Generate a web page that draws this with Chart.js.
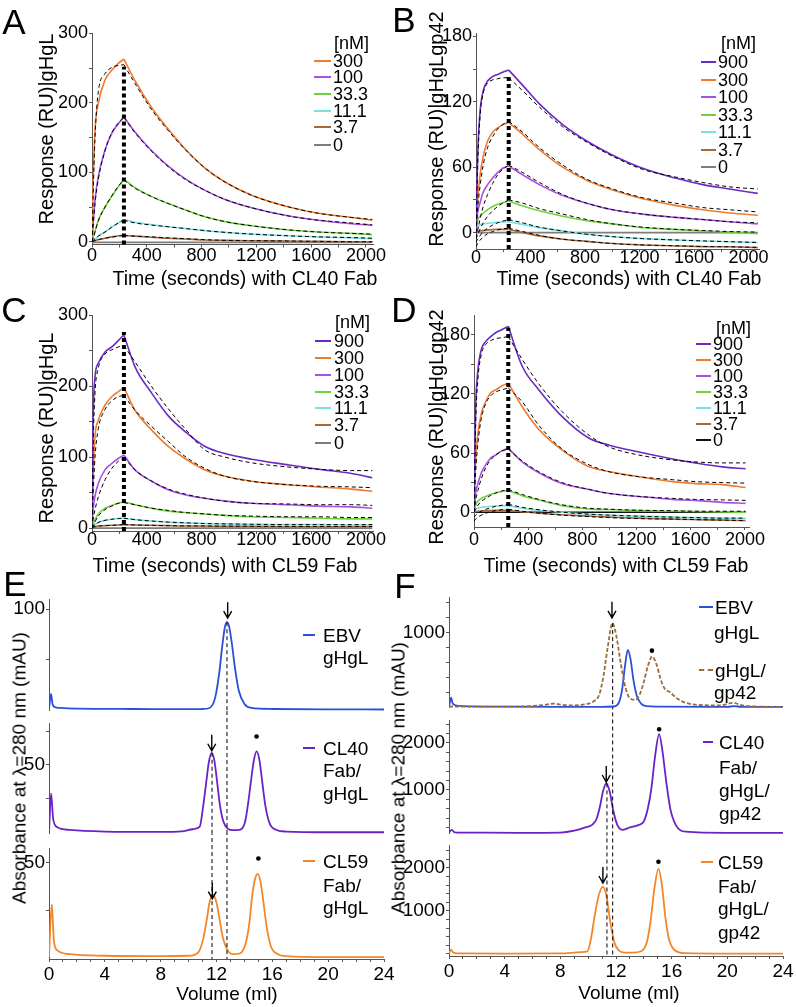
<!DOCTYPE html>
<html>
<head>
<meta charset="utf-8">
<title>CL40 / CL59 Fab binding</title>
<script src="https://cdn.jsdelivr.net/npm/chart.js@4.4.1/dist/chart.umd.min.js"></script>
<style>
  html, body { margin: 0; padding: 0; background: #fff; overflow: hidden; }
  #fig { position: relative; width: 796px; height: 1007px; font-family: 'Liberation Sans', Arial, sans-serif; color: #000; }
  #fig canvas { position: absolute; }
  .t { position: absolute; white-space: nowrap; line-height: 1; }
  .ln { position: absolute; height: 0; }
</style>
</head>
<body>
<div id="fig"></div>
<script>
// ---- SPR sensorgrams: time (s) ----
const timeA = [0, 8, 22, 46, 95, 144, 192, 233, 314, 436, 557, 679, 825, 971, 1165, 1438, 1652, 1895, 2046];
const timeB = [0, 12, 29, 53, 85, 122, 159, 196, 240, 343, 465, 636, 812, 1003, 1223, 1462, 1663, 1859, 2067];
const timeC = [0, 8, 22, 46, 95, 144, 192, 233, 314, 436, 557, 679, 825, 971, 1165, 1438, 1652, 1895, 2046];
const timeD = [0, 12, 29, 54, 86, 123, 160, 204, 253, 356, 479, 651, 850, 1000, 1217, 1466, 1635, 1832, 2005];

const concA = ['300', '100', '33.3', '11.1', '3.7', '0'];
const concB = ['900', '300', '100', '33.3', '11.1', '3.7', '0'];
const concC = ['900', '300', '100', '33.3', '11.1', '3.7', '0'];
const concD = ['900', '300', '100', '33.3', '11.1', '3.7', '0'];

// A: gHgL, CL40 Fab (response RU; measured + fitted)
const a300 = [0, 80, 161, 199, 233, 247, 257, 263, 232, 193, 162, 134, 106, 86, 67, 50, 41, 35, 31];
const a300Fit = [0, 65, 150, 216, 242, 251, 254, 255, 228, 190, 160, 133, 106, 86, 67, 50, 41, 35, 32];
const a100 = [0, 25, 60, 94, 132, 156, 170, 180, 158, 131, 109, 91, 74, 61, 49, 37, 31, 26, 24];
const a100Fit = [0, 22, 55, 90, 131, 157, 171, 179, 157, 130, 108, 90, 74, 61, 49, 37, 31, 27, 24];
const a33 = [0, 6, 15, 31, 50, 65, 79, 90, 78, 65, 55, 46, 36, 29, 23, 17, 14, 12, 10];
const a33Fit = [0, 5, 14, 30, 50, 66, 80, 89, 77, 65, 55, 46, 36, 29, 23, 17, 14, 12, 11];
const a11 = [0, 1.5, 4, 8, 14, 21, 27, 32, 28, 24.5, 21.5, 19, 16, 13.5, 11, 8.5, 7, 5.5, 4.5];
const a11Fit = [0, 1.5, 4, 8, 14, 21, 27, 31, 27, 24, 21.5, 19, 16, 13.5, 11, 8.5, 7, 6, 5];
const a37 = [0, 0.5, 1.5, 3, 5, 7, 8.5, 9, 8, 6.5, 5, 4, 2.5, 2, 1.5, 1, 0.5, 0, -0.5];
const a37Fit = [0, 0.5, 1.5, 3, 5, 6.5, 8, 9, 8, 7, 5.5, 4.5, 3, 2, 1.5, 1, 0.5, 0, 0];
const a0 = [-1, -1, -1, -1, -1, -1, -1, -1, -1, -1, -1, -1, -1, -1, -1, -1, -1, -1, -1];

// B: gHgLgp42, CL40 Fab
const b900 = [0, 70, 110, 130, 139, 143, 145, 147, 149, 135, 118, 99, 84, 71, 59, 50, 44, 40, 36];
const b900Fit = [0, 60, 105, 128, 137, 140, 141, 142, 142, 130, 115, 97, 83, 70, 58, 51, 46, 42, 40];
const b300 = [0, 31, 52, 70, 84, 92, 96, 99, 101, 90, 76, 60, 48, 39, 31, 25, 21, 18, 16];
const b300Fit = [0, 22, 42, 62, 78, 88, 95, 99, 102, 92, 78, 62, 49, 40, 32, 27, 23, 21, 19];
const b100 = [0, 18, 27, 37, 44, 50, 55, 59, 61, 53, 44, 34, 27, 21, 17, 14, 12, 10, 8];
const b100Fit = [-5, 2, 12, 24, 35, 45, 53, 58, 62, 55, 46, 35, 27, 21, 17, 14, 12, 10, 9];
const b33 = [0, 11, 15, 18, 21, 24, 26, 27.5, 29, 24.5, 20, 15, 11, 8, 4.5, 3, 1.5, 0.6, -1];
const b33Fit = [-6, -2, 3, 9, 15, 20, 24, 27, 30, 27, 22, 17, 12, 8, 5, 3, 2, 1, 0.5];
const b11 = [0, 5, 7, 8, 8.5, 9, 9.5, 9.8, 10, 7.6, 4.6, 1.5, -1.5, -3.7, -5.5, -6.7, -7.6, -8.3, -9];
const b11Fit = [-9, -6, -3, 1, 4, 7, 9, 10.5, 12, 9, 5, 1.5, -1.5, -3.7, -5.5, -6.7, -7.6, -8.3, -9];
const b37 = [0, 1, 1.5, 2, 2.5, 2.8, 3, 3, 3, 0, -3, -6, -8, -10, -11.3, -12.2, -12.8, -13, -13.7];
const b37Fit = [-13, -10, -7, -4, -1, 1, 2.5, 3.5, 4, 1, -2.5, -6, -8, -10, -11.3, -12, -12.7, -13, -13.5];
const b0 = [0, 0, 0, 0, 0, 0, 0, 0, 0, 0, 0, 0, 0, 0, 0, 0, 0, 0, 0];

// C: gHgL, CL59 Fab
const c900 = [0, 150, 213, 232, 248, 255, 264, 272, 227, 190, 158, 136, 115, 105, 97, 89, 83, 77, 71];
const c900Fit = [0, 110, 190, 225, 245, 251, 255, 257, 234, 199, 168, 140, 110, 100, 92, 86, 83, 81, 81];
const c300 = [0, 70, 129, 152, 173, 185, 192, 198, 166, 138, 115, 98, 82, 73, 66, 61, 58, 55, 52];
const c300Fit = [0, 45, 100, 140, 167, 179, 185, 187, 166, 143, 122, 101, 84, 73, 66, 61, 59, 58, 57];
const c100 = [0, 25, 45, 63, 82, 91, 98, 103, 82, 66, 54, 47, 42, 38, 35, 33, 31, 30, 28];
const c100Fit = [0, 12, 26, 44, 68, 84, 94, 100, 82, 66, 55, 48, 42, 38, 35, 34, 33, 33, 32];
const c33 = [0, 5, 12, 20, 28, 32, 35, 37, 33, 28, 24, 22, 20, 18, 16, 15, 14, 13, 13];
const c33Fit = [0, 3, 9, 17, 26, 31, 35, 36, 33, 28, 25, 22, 20, 18, 17, 16, 16, 15, 15];
const c11 = [0, 2, 5, 8, 11, 12.5, 13.5, 14, 12, 10, 8.5, 7.5, 6.5, 6, 5.5, 5, 5, 4.5, 4.5];
const c11Fit = [0, 2, 4.5, 8, 11, 12.5, 13.5, 14, 12, 10, 8.5, 7.5, 6.5, 6, 5.5, 5, 5, 5, 5];
const c37 = [0, 1, 2, 3, 3.5, 4, 4.5, 5, 4.5, 4, 3.5, 3, 3, 2.5, 2.5, 2, 2, 2, 2];
const c37Fit = [0, 1, 2, 3, 3.5, 4, 4.5, 5, 4.5, 4, 3.5, 3.2, 3, 2.8, 2.6, 2.5, 2.5, 2.5, 2.5];
const c0 = [0, 0, 0, 0, 0, 0, 0, 0, 0, 0, 0, 0, 0, 0, 0, 0, 0, 0, 0];

// D: gHgLgp42, CL59 Fab
const d900 = [0, 104, 144, 165, 173, 178, 182, 185, 188.5, 148, 124, 97, 75, 68, 61, 54, 50, 46, 44];
const d900Fit = [0, 90, 135, 160, 170, 174, 176, 177, 178, 155, 130, 102, 78, 66, 58, 53, 51, 50, 50];
const d300 = [0, 53, 80, 100, 112, 121, 124, 128, 131, 107, 84, 63, 46, 41, 36, 31, 29, 28, 25];
const d300Fit = [0, 40, 70, 95, 110, 118, 122, 124, 126, 112, 88, 64, 48, 41, 36, 33, 31, 30, 29.5];
const d100 = [0, 19, 29, 40, 48, 55, 58, 62, 65, 51, 40, 29, 23, 19, 16, 13, 12, 10, 9];
const d100Fit = [0, 12, 22, 34, 45, 53, 58, 62, 64, 52, 41, 30, 23, 19, 16, 14, 13, 12.5, 12];
const d33 = [0, 7, 11, 14, 16, 18, 19.5, 21, 22, 16.7, 12.3, 6.7, 3.3, 2.7, 1.7, 1, 0.7, 0.3, 0];
const d33Fit = [0, 3, 7, 11, 14, 17, 19.5, 21.5, 23, 18, 13, 7.5, 4, 3, 2, 1.5, 1, 1, 1];
const d11 = [0, 3, 4, 5, 5.5, 6, 6.3, 6.5, 6.7, 4, 2, 0, -2, -3, -4, -5, -5.5, -6, -6.3];
const d11Fit = [-5, -3, -1, 1, 3, 4.5, 6, 7, 8, 5, 2.5, 0, -2, -3, -4, -5, -5.5, -6, -6];
const d37 = [0, 0.5, 1, 1.3, 1.6, 1.8, 2, 2, 2, 0.5, -1, -2.5, -4, -5, -6, -7, -7.5, -8, -8.5];
const d37Fit = [-9, -7, -5, -3, -1, 0.5, 1.5, 2.5, 3, 1, -1, -3, -4.5, -5.5, -6.5, -7, -7.5, -8, -8.5];
const d0 = [0, 0, 0, 0, 0, 0, 0, 0, 0, 0, 0, 0, 0, 0, 0, 0, 0, 0, 0];

const sprXTicks = [0, 200, 400, 600, 800, 1000, 1200, 1400, 1600, 1800, 2000];
const sprXLabels = [0, 400, 800, 1200, 1600, 2000];
const yTicksAC = [0, 50, 100, 150, 200, 250, 300];
const yLabelsAC = [0, 100, 200, 300];
const yTicksBD = [0, 30, 60, 90, 120, 150, 180];
const yLabelsBD = [0, 60, 120, 180];

// ---- SEC chromatograms: volume (ml) / A280 (mAU) ----
const volE1 = [0, 0.15, 0.25, 0.4, 0.8, 2, 6, 10, 11, 11.5, 11.9, 12.2, 12.4, 12.6, 12.75, 12.9, 13.1, 13.3, 13.6, 14, 14.5, 16, 20, 24];
const absE1 = [1, 16, 6, 3, 2, 1.3, 1, 0.8, 1, 2, 12, 37, 62, 82, 87, 83, 66, 44, 19, 6, 2, 1, 0.6, 0.5];
const volE2 = [0, 0.15, 0.3, 0.6, 1.5, 4, 8, 9.5, 10.3, 10.8, 11.05, 11.25, 11.45, 11.65, 11.85, 12.05, 12.25, 12.5, 12.8, 13.2, 13.7, 14.05, 14.27, 14.47, 14.67, 14.87, 15.07, 15.27, 15.5, 15.8, 16.3, 17, 20, 24];
const absE2 = [0.3, 29, 10, 4, 2, 0.8, 0.5, 1, 2.5, 4.5, 20, 36, 52, 59, 53, 37, 20, 8, 3, 1.8, 2.2, 8, 22, 38, 53, 60, 54, 38, 20, 7, 2, 0.8, 0.3, 0.3];
const volE3 = [0, 0.2, 0.35, 0.6, 1.5, 4, 8, 10, 10.7, 11.05, 11.3, 11.5, 11.75, 12.0, 12.2, 12.45, 12.8, 13.2, 13.7, 14.1, 14.35, 14.55, 14.75, 14.95, 15.15, 15.35, 15.6, 15.9, 16.4, 17, 20, 24];
const absE3 = [0.5, 28, 9, 4, 2, 1.2, 1, 1.2, 3, 10, 20, 29, 33, 29, 21, 11, 4, 2, 2.5, 8, 18, 32, 41, 44, 40, 30, 16, 6, 2, 1, 0.5, 0.5];

const volF1 = [0, 0.15, 0.25, 0.4, 1, 4, 8, 11, 11.8, 12.2, 12.45, 12.65, 12.85, 13.05, 13.25, 13.5, 13.8, 14.2, 15, 20, 20.5, 21, 24];
const absF1 = [5, 130, 60, 30, 15, 8, 5, 5, 10, 60, 250, 560, 770, 640, 370, 150, 50, 15, 8, 5, 15, 5, 5];
const volF1b = [0, 0.2, 1, 5, 7, 7.5, 8, 9, 9.8, 10.4, 10.8, 11.1, 11.4, 11.75, 12.05, 12.35, 12.7, 13.0, 13.4, 13.7, 14.0, 14.3, 14.6, 14.9, 15.2, 15.5, 15.9, 16.3, 17, 18, 19.5, 20.4, 21, 22, 24];
const absF1b = [5, 10, 8, 10, 35, 50, 35, 25, 40, 80, 170, 420, 800, 1130, 930, 580, 250, 120, 100, 170, 340, 560, 680, 580, 380, 250, 200, 130, 60, 30, 25, 60, 30, 10, 5];
const volF2 = [0, 0.2, 0.4, 1, 5, 8, 9, 9.8, 10.3, 10.6, 10.85, 11.05, 11.3, 11.55, 11.8, 12.1, 12.5, 13, 13.6, 14.0, 14.3, 14.55, 14.8, 15.1, 15.35, 15.6, 15.9, 16.3, 17, 20, 24];
const absF2 = [90, 150, 95, 90, 85, 90, 130, 200, 260, 380, 650, 950, 1140, 960, 560, 250, 150, 200, 250, 330, 620, 1050, 1700, 2190, 1800, 1200, 600, 250, 110, 85, 85];
const volF3 = [0, 0.15, 0.3, 0.6, 4, 8, 9.5, 9.95, 10.2, 10.45, 10.75, 11.05, 11.3, 11.6, 11.9, 12.2, 12.6, 13.2, 13.8, 14.2, 14.5, 14.75, 15.05, 15.3, 15.55, 15.8, 16.2, 17, 20, 24];
const absF3 = [10, 100, 30, 10, 5, 10, 40, 60, 350, 850, 1350, 1560, 1380, 720, 250, 80, 30, 30, 60, 250, 800, 1500, 1980, 1600, 850, 350, 90, 15, 5, 5];

const secXTicks = [0, 1, 2, 3, 4, 5, 6, 7, 8, 9, 10, 11, 12, 13, 14, 15, 16, 17, 18, 19, 20, 21, 22, 23, 24];
const secXLabels = [0, 4, 8, 12, 16, 20, 24];

const concColors = { '900': '#6b2bc3', '300': '#f07b2e', '100': '#a650e6', '33.3': '#6fd23c', '11.1': '#78e2e2', '3.7': '#a46a3c', '0': '#7d7d7d' };
const blue = '#2b4fd8', purple = '#6a22c6', orange = '#f2862a', brown = '#9b6d3b';

Chart.defaults.font.family = "'Liberation Sans', Arial, sans-serif";
Chart.defaults.color = '#000';

const fig = document.getElementById('fig');
const axisColor = '#555';
const tickLen = 3;

function addCanvas(l, t, w, h) {
  const cv = document.createElement('canvas');
  cv.width = w; cv.height = h;
  cv.style.left = l + 'px'; cv.style.top = t + 'px';
  cv.style.width = w + 'px'; cv.style.height = h + 'px';
  fig.appendChild(cv);
  return cv;
}

function addText(txt, x, y, size, center) {
  const d = document.createElement('div');
  d.className = 't';
  d.textContent = txt;
  d.style.fontSize = size + 'px';
  d.style.left = x + 'px';
  d.style.top = (y - size / 2) + 'px';
  if (center) d.style.transform = 'translateX(-50%)';
  fig.appendChild(d);
}

function addVText(txt, cx, cy, size) {
  const d = document.createElement('div');
  d.className = 't';
  d.textContent = txt;
  d.style.fontSize = size + 'px';
  d.style.left = cx + 'px';
  d.style.top = cy + 'px';
  d.style.transform = 'translate(-50%,-50%) rotate(-90deg)';
  fig.appendChild(d);
}

function addLine(x1, x2, y, color, w, dashed) {
  const d = document.createElement('div');
  d.className = 'ln';
  d.style.left = x1 + 'px';
  d.style.width = (x2 - x1) + 'px';
  d.style.top = (y - w / 2) + 'px';
  d.style.borderTop = w + 'px ' + (dashed ? 'dashed ' : 'solid ') + color;
  fig.appendChild(d);
}

function toPts(xs, ys) {
  return xs.map((x, i) => ({ x: x, y: ys[i] }));
}

function curve(pts, color, w, dash, order) {
  return { data: pts, borderColor: color, borderWidth: w, borderDash: dash || [], pointRadius: 0,
           cubicInterpolationMode: 'monotone', fill: false, order: order };
}

function straight(pts, w, dash, order) {
  return { data: pts, borderColor: '#000', borderWidth: w, borderDash: dash, pointRadius: 0,
           tension: 0, fill: false, clip: false, order: order, borderCapStyle: 'butt' };
}

function arrowMarks(points) {
  return {
    id: 'arrowMarks',
    afterDatasetsDraw(chart) {
      const { ctx, scales } = chart;
      ctx.save();
      ctx.strokeStyle = '#000';
      ctx.lineWidth = 1.4;
      points.forEach(p => {
        const px = scales.x.getPixelForValue(p[0]);
        const py = scales.y.getPixelForValue(p[1]);
        ctx.beginPath();
        ctx.moveTo(px, py - 16); ctx.lineTo(px, py - 1);
        ctx.moveTo(px - 4, py - 7); ctx.lineTo(px, py); ctx.lineTo(px + 4, py - 7);
        ctx.stroke();
      });
      ctx.restore();
    }
  };
}

// x axis: ticks and labels only, titles are placed as text afterwards
function axisX(c, min, max, ticks, labels, fontSize) {
  const xH = c.top + c.height - c.plot.b;
  const lh = Math.max(2, 2 * (c.tickY - c.plot.b - tickLen));
  return {
    type: 'linear', min: min, max: max,
    afterBuildTicks: s => { s.ticks = ticks.map(v => ({ value: v })); },
    afterFit: s => { s.height = xH; s.paddingLeft = 0; s.paddingRight = 0; },
    ticks: { autoSkip: false, maxRotation: 0, padding: 0, color: '#000',
             font: { size: fontSize, lineHeight: lh + 'px' },
             callback: v => labels.includes(v) ? String(v) : '' },
    grid: { drawOnChartArea: false, tickLength: tickLen, color: axisColor },
    border: { color: axisColor, width: 1 }
  };
}

function axisY(c, ticks, labels, fontSize) {
  const yW = c.plot.l - c.left;
  return {
    type: 'linear', min: c.yMin, max: c.yMax,
    afterBuildTicks: s => { s.ticks = ticks.map(v => ({ value: v })); },
    afterFit: s => { s.width = yW; s.paddingTop = 0; s.paddingBottom = 0; },
    ticks: { autoSkip: false, padding: 1, color: '#000', font: { size: fontSize },
             callback: v => labels.includes(v) ? String(v) : '' },
    grid: { drawOnChartArea: false, tickLength: tickLen, color: axisColor },
    border: { color: axisColor, width: 1 }
  };
}

function baseOptions(c, scales) {
  return {
    responsive: false, animation: false, events: [],
    layout: { autoPadding: false,
              padding: { left: 0, top: c.plot.t - c.top, right: c.left + c.width - c.plot.r, bottom: 0 } },
    plugins: { legend: { display: false }, tooltip: { enabled: false } },
    scales: scales
  };
}

function sprChart(c) {
  const cv = addCanvas(c.left, c.top, c.width, c.height);
  const datasets = [];
  c.conc.forEach((k, i) => {
    const color = (c.zeroColor && k === '0') ? c.zeroColor : concColors[k];
    const [raw, fit] = c.series[i];
    const pts = toPts(c.time, raw);
    datasets.push(curve(pts.slice(0, c.inj + 1), color, 1.6, null, 3));
    datasets.push(curve(pts.slice(c.inj), color, 1.6, null, 3));
    if (fit) {
      const fp = toPts(c.time, fit);
      datasets.push(curve(fp.slice(0, c.inj + 1), '#000', 1, [4, 3], 2));
      datasets.push(curve(fp.slice(c.inj), '#000', 1, [4, 3], 2));
    }
  });
  const t0 = c.time[c.inj];
  datasets.push(straight([{ x: t0, y: c.dot[0] }, { x: t0, y: c.dot[1] }], 4, [4, 3], 1));
  new Chart(cv, {
    type: 'line',
    data: { datasets: datasets },
    options: baseOptions(c, {
      x: axisX(c, 0, c.xMax, sprXTicks, sprXLabels, 18),
      y: axisY(c, c.yTicks, c.yLabels, 18)
    })
  });
  addText(c.xTitle[0], c.xTitle[1], c.xTitle[2], 19.5, true);
  addText('[nM]', c.legend.head[0], c.legend.head[1], 18);
  c.conc.forEach((k, i) => {
    const color = (c.zeroColor && k === '0') ? c.zeroColor : concColors[k];
    const y = c.legend.rows[i];
    addLine(c.legend.line[0], c.legend.line[1], y, color, 2);
    addText(k, c.legend.text, y, 18);
  });
}

function secChart(c) {
  const cv = addCanvas(c.left, c.top, c.width, c.height);
  const datasets = [];
  c.traces.forEach(t => datasets.push(curve(toPts(t.vol, t.val), t.color, 1.8, t.dash, 3)));
  c.guides.forEach(g => datasets.push(straight([{ x: g[0], y: g[1] }, { x: g[0], y: g[2] }], 1, [4, 3], 2)));
  datasets.push({ data: c.dots.map(d => ({ x: d[0], y: d[1] })), showLine: false, pointRadius: 2.3,
                  pointBackgroundColor: '#000', pointBorderWidth: 0, order: 1 });
  const x = c.xTitle
    ? axisX(c, 0, 24, secXTicks, secXLabels, 19)
    : { type: 'linear', min: 0, max: 24, display: false };
  new Chart(cv, {
    type: 'line',
    data: { datasets: datasets },
    options: baseOptions(c, { x: x, y: axisY(c, c.yTicks, c.yLabels, 19) }),
    plugins: [arrowMarks(c.arrows)]
  });
  if (c.xTitle) addText(c.xTitle[0], c.xTitle[1], c.xTitle[2], 19, true);
}

// ---------- SPR panels ----------
sprChart({
  left: 0, top: 0, width: 398, height: 291,
  plot: { l: 92, t: 33.5, r: 373.5, b: 244.5 }, tickY: 256,
  xMax: 2055, yMin: -4, yMax: 300, yTicks: yTicksAC, yLabels: yLabelsAC,
  time: timeA, inj: 7, dot: [-4, 252], conc: concA,
  series: [[a300, a300Fit], [a100, a100Fit], [a33, a33Fit], [a11, a11Fit], [a37, a37Fit], [a0, null]],
  xTitle: ['Time (seconds) with CL40 Fab', 245, 279],
  legend: { head: [334, 43], line: [314, 331], text: 333, rows: [60.7, 77.3, 94, 110.7, 127.3, 145] }
});
sprChart({
  left: 396, top: 0, width: 388, height: 291,
  plot: { l: 476, t: 33, r: 759.5, b: 249 }, tickY: 258,
  xMax: 2080, yMin: -15, yMax: 183, yTicks: yTicksBD, yLabels: yLabelsBD,
  time: timeB, inj: 8, dot: [-15, 143], conc: concB,
  series: [[b900, b900Fit], [b300, b300Fit], [b100, b100Fit], [b33, b33Fit], [b11, b11Fit], [b37, b37Fit], [b0, null]],
  xTitle: ['Time (seconds) with CL40 Fab', 629, 279],
  legend: { head: [721, 43], line: [701, 716], text: 718, rows: [62, 79.5, 97, 114.5, 132, 149.5, 167] }
});
sprChart({
  left: 0, top: 290, width: 398, height: 288,
  plot: { l: 92, t: 315, r: 373.5, b: 531 }, tickY: 540,
  xMax: 2055, yMin: -4, yMax: 300, yTicks: yTicksAC, yLabels: yLabelsAC,
  time: timeC, inj: 7, dot: [-4, 276], conc: concC,
  series: [[c900, c900Fit], [c300, c300Fit], [c100, c100Fit], [c33, c33Fit], [c11, c11Fit], [c37, c37Fit], [c0, null]],
  xTitle: ['Time (seconds) with CL59 Fab', 225, 566],
  legend: { head: [335, 322], line: [315, 331], text: 334, rows: [340.7, 357.7, 375, 391.7, 408.3, 425, 442.7] }
});
sprChart({
  left: 396, top: 290, width: 378, height: 288,
  plot: { l: 474, t: 315, r: 749, b: 527 }, tickY: 540,
  xMax: 2030, yMin: -15, yMax: 200, yTicks: yTicksBD, yLabels: yLabelsBD,
  time: timeD, inj: 8, dot: [-15, 187], conc: concD, zeroColor: '#111',
  series: [[d900, d900Fit], [d300, d300Fit], [d100, d100Fit], [d33, d33Fit], [d11, d11Fit], [d37, d37Fit], [d0, null]],
  xTitle: ['Time (seconds) with CL59 Fab', 616, 566],
  legend: { head: [716, 328], line: [696, 711], text: 713, rows: [344, 360, 376, 392, 408, 424, 440] }
});

// ---------- SEC panels ----------
secChart({
  left: 0, top: 587, width: 398, height: 124, plot: { l: 49, t: 599, r: 384, b: 711 },
  yMin: -1, yMax: 110, yTicks: [50, 100], yLabels: [100],
  traces: [{ vol: volE1, val: absE1, color: blue }],
  guides: [[12.75, 87, -1]], arrows: [[12.8, 91]], dots: []
});
secChart({
  left: 0, top: 711, width: 398, height: 123, plot: { l: 49, t: 723, r: 384, b: 834 },
  yMin: -1, yMax: 81, yTicks: [25, 50, 75], yLabels: [50],
  traces: [{ vol: volE2, val: absE2, color: purple }],
  guides: [[12.75, 95, -1], [11.68, 59, -1]], arrows: [[11.66, 60.5]], dots: [[14.87, 71]]
});
secChart({
  left: 0, top: 834, width: 398, height: 171, plot: { l: 49, t: 848, r: 384, b: 959 }, tickY: 975,
  yMin: -0.5, yMax: 57.5, yTicks: [25, 50], yLabels: [50], xTitle: ['Volume (ml)', 227, 993],
  traces: [{ vol: volE3, val: absE3, color: orange }],
  guides: [[12.75, 70, -0.5], [11.68, 70, -0.5]], arrows: [[11.7, 31]], dots: [[15.0, 52]]
});
secChart({
  left: 396, top: 585, width: 399, height: 123, plot: { l: 449, t: 597, r: 783, b: 708 },
  yMin: -10, yMax: 1480, yTicks: [200, 400, 600, 800, 1000, 1200, 1400], yLabels: [1000],
  traces: [{ vol: volF1b, val: absF1b, color: brown, dash: [4, 2] }, { vol: volF1, val: absF1, color: blue }],
  guides: [[11.76, 1130, -10]], arrows: [[11.71, 1200]], dots: [[14.58, 760]]
});
secChart({
  left: 396, top: 708, width: 399, height: 126, plot: { l: 449, t: 720, r: 783, b: 834 },
  yMin: 60, yMax: 2490, yTicks: [200, 400, 600, 800, 1000, 1200, 1400, 1600, 1800, 2000, 2200, 2400], yLabels: [1000, 2000],
  traces: [{ vol: volF2, val: absF2, color: purple }],
  guides: [[11.76, 2800, 60], [11.35, 1140, 60]], arrows: [[11.3, 1168]], dots: [[15.1, 2292]]
});
secChart({
  left: 396, top: 834, width: 399, height: 169, plot: { l: 449, t: 845, r: 783, b: 956 }, tickY: 972,
  yMin: -50, yMax: 2535, yTicks: [0, 200, 400, 600, 800, 1000, 1200, 1400, 1600, 1800, 2000, 2200, 2400], yLabels: [1000, 2000],
  xTitle: ['Volume (ml)', 629, 992],
  traces: [{ vol: volF3, val: absF3, color: orange }],
  guides: [[11.76, 2850, -50], [11.35, 2850, -50]], arrows: [[11.06, 1650]], dots: [[15.05, 2146]]
});

// ---------- titles, legends, panel letters ----------
addVText('Response (RU)|gHgL', 46, 129, 20);
addVText('Response (RU)|gHgLgp42', 436, 129, 20);
addVText('Response (RU)|gHgL', 46, 428, 20);
addVText('Response (RU)|gHgLgp42', 436, 427, 20);
addVText('Absorbance at λ=280 nm (mAU)', 19, 768, 19);
addVText('Absorbance at λ=280 nm (mAU)', 398, 778, 19);

addLine(303, 315, 635, blue, 2.5); addText('EBV', 323, 635, 19); addText('gHgL', 323, 657, 19);
addLine(303, 315, 748, purple, 2.5); addText('CL40', 323, 748, 19); addText('Fab/', 323, 770, 19); addText('gHgL', 323, 793, 19);
addLine(303, 315, 861, orange, 2.5); addText('CL59', 323, 861, 19); addText('Fab/', 323, 885, 19); addText('gHgL', 323, 907, 19);

addLine(699, 713, 607, blue, 2.5); addText('EBV', 715, 607, 19); addText('gHgL', 714, 632, 19);
addLine(699, 713, 670, brown, 2.5, true); addText('gHgL/', 715, 670, 19); addText('gp42', 714, 692, 19);
addLine(703, 713, 742, purple, 2.5); addText('CL40', 719, 742, 19); addText('Fab/', 719, 767, 19); addText('gHgL/', 719, 790, 19); addText('gp42', 719, 813, 19);
addLine(701, 713, 862, orange, 2.5); addText('CL59', 718, 862, 19); addText('Fab/', 718, 886, 19); addText('gHgL/', 718, 908, 19); addText('gp42', 718, 932, 19);

addText('A', 14, 21, 35, true);
addText('B', 404, 19, 35, true);
addText('C', 14, 309, 35, true);
addText('D', 404, 309, 35, true);
addText('E', 15, 583, 35, true);
addText('F', 405, 585, 35, true);
</script>
</body>
</html>
